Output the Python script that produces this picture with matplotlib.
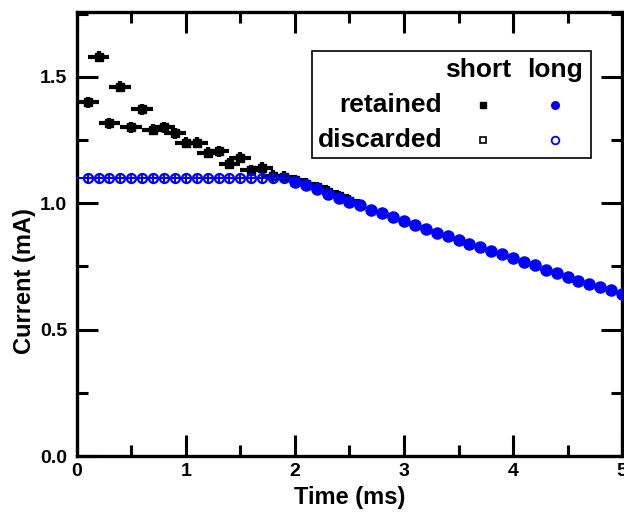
import numpy as np
import matplotlib
matplotlib.use("Agg")
import matplotlib.pyplot as plt
from matplotlib.patches import Rectangle
from matplotlib.ticker import MultipleLocator

plt.rcParams['font.family'] = ['Liberation Sans', 'DejaVu Sans']
plt.rcParams['font.weight'] = 'bold'

# ---- data ----
short_t = [0.1, 0.2, 0.3, 0.4, 0.5, 0.6, 0.7, 0.8, 0.9, 1.0, 1.1, 1.2, 1.3,
           1.4, 1.5, 1.6, 1.7, 1.8, 1.9, 2.0, 2.1, 2.2, 2.3, 2.4, 2.5]
short_I = [1.40, 1.58, 1.316, 1.46, 1.30, 1.372, 1.29, 1.30, 1.276, 1.24, 1.24,
           1.20, 1.206, 1.157, 1.18, 1.131, 1.14, 1.108, 1.104, 1.09, 1.077,
           1.063, 1.045, 1.028, 1.01]

long_disc_t = [0.1, 0.2, 0.3, 0.4, 0.5, 0.6, 0.7, 0.8, 0.9, 1.0, 1.1, 1.2, 1.3,
               1.4, 1.5, 1.6, 1.7, 1.8, 1.9]
long_disc_I = [1.10, 1.10, 1.10, 1.10, 1.10, 1.10, 1.10, 1.10, 1.10, 1.10,
               1.10, 1.10, 1.10, 1.10, 1.10, 1.10, 1.10, 1.10, 1.10]

long_ret_t = [2.0, 2.1, 2.2, 2.3, 2.4, 2.5, 2.6, 2.7, 2.8, 2.9, 3.0, 3.1, 3.2,
              3.3, 3.4, 3.5, 3.6, 3.7, 3.8, 3.9, 4.0, 4.1, 4.2, 4.3, 4.4, 4.5,
              4.6, 4.7, 4.8, 4.9, 5.0]
long_ret_I = [1.085, 1.071, 1.058, 1.038, 1.021, 1.005, 0.992, 0.975, 0.960,
              0.946, 0.930, 0.913, 0.900, 0.882, 0.870, 0.856, 0.840, 0.827,
              0.812, 0.798, 0.784, 0.767, 0.754, 0.737, 0.723, 0.708, 0.694,
              0.681, 0.668, 0.657, 0.642]

BLUE = "#0000ff"

fig = plt.figure(figsize=(6.24, 5.12), dpi=100)
ax = fig.add_axes([0.123, 0.109, 0.874, 0.868])

# short pulses (black squares, wide time bins)
ax.errorbar(short_t, short_I, xerr=0.1, yerr=0.022, fmt="s", color="k",
            ms=6, elinewidth=3.0, capsize=0, zorder=3)

# long pulses (blue circles)
ax.errorbar(long_disc_t, long_disc_I, xerr=0.1, yerr=0.015, fmt="o", color=BLUE,
            mfc="none", mec=BLUE, ms=6.5, mew=1.6, elinewidth=1.5, capsize=0,
            zorder=4)
ax.errorbar(long_ret_t, long_ret_I, xerr=0.05, yerr=0.015, fmt="o", color=BLUE,
            ms=8, elinewidth=1.5, capsize=0, zorder=5)

ax.set_xlim(0, 5)
ax.set_ylim(0, 1.757)
ax.xaxis.set_major_locator(MultipleLocator(1))
ax.xaxis.set_minor_locator(MultipleLocator(0.5))
ax.yaxis.set_major_locator(MultipleLocator(0.5))
ax.yaxis.set_minor_locator(MultipleLocator(0.25))
ax.yaxis.set_major_formatter(matplotlib.ticker.FormatStrFormatter("%.1f"))

ax.tick_params(which="both", direction="in", top=True, right=True, width=2.2,
               labelsize=14)
ax.tick_params(which="major", length=15)
ax.tick_params(which="minor", length=8)
ax.tick_params(axis="x", pad=5)
ax.tick_params(axis="y", pad=7)
for s in ax.spines.values():
    s.set_linewidth(2.4)

ax.set_xlabel("Time (ms)", fontsize=17, fontweight="bold", labelpad=4)
ax.set_ylabel("Current (mA)", fontsize=17, fontweight="bold")
ax.yaxis.set_label_coords(-0.075, 0.394)

# hand-made legend table
T = ax.transAxes
ax.add_patch(Rectangle((0.431, 0.671), 0.512, 0.241, transform=T, fill=True,
                       fc="white", ec="k", lw=1.2, zorder=10))
kw = dict(transform=T, fontsize=19, fontweight="bold", zorder=11, va="center")
ax.text(0.736, 0.869, "short", ha="center", **kw)
ax.text(0.877, 0.869, "long", ha="center", **kw)
ax.text(0.670, 0.790, "retained", ha="right", **kw)
ax.text(0.670, 0.712, "discarded", ha="right", **kw)
ax.plot([0.745], [0.790], "s", color="k", ms=5, transform=T, zorder=11)
ax.plot([0.745], [0.712], "s", mfc="white", mec="k", mew=1.2, ms=5,
        transform=T, zorder=11)
ax.plot([0.877], [0.790], "o", color=BLUE, ms=5.5, transform=T, zorder=11)
ax.plot([0.877], [0.712], "o", mfc="white", mec=BLUE, mew=1.3, ms=5.5,
        transform=T, zorder=11)

fig.savefig("out.png", dpi=100)
